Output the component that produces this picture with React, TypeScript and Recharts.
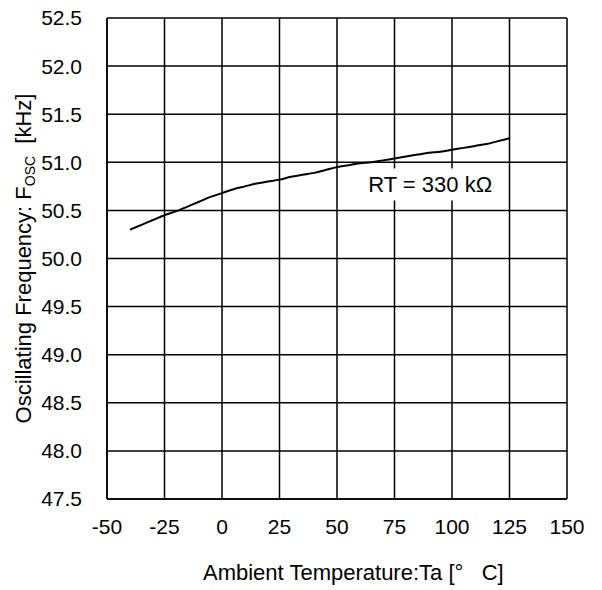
import { LineChart, Line, XAxis, YAxis, CartesianGrid, ReferenceDot, Label } from 'recharts';

// Ambient temperature [°C]
const temps = [
    -40, -35, -30, -25, -20, -15, -10, -5, 0, 5, 10, 15, 20, 25, 30, 35, 40, 45, 50, 55,
    60, 65, 70, 75, 80, 85, 90, 95, 100, 105, 110, 115, 120, 125,
];
// Oscillating frequency [kHz], RT = 330 kOhm
const freqs = [
    50.30, 50.35, 50.40, 50.45, 50.49, 50.54, 50.59, 50.64, 50.68, 50.72, 50.75, 50.78, 50.80, 50.82, 50.85, 50.87, 50.89, 50.92, 50.95, 50.97,
    50.99, 51.00, 51.02, 51.04, 51.06, 51.08, 51.10, 51.11, 51.13, 51.15, 51.17, 51.19, 51.22, 51.25,
];
const xTicks = [-50, -25, 0, 25, 50, 75, 100, 125, 150];
const yTicks = [47.5, 48.0, 48.5, 49.0, 49.5, 50.0, 50.5, 51.0, 51.5, 52.0, 52.5];
const seriesLabel = 'RT = 330 kΩ';

const data = temps.map((t, i) => ({ t, f: freqs[i] }));

const font = '"Liberation Sans", Arial, sans-serif';

const YTitle = (props: any) => {
    const vb = props.viewBox;
    const cy = vb.y + vb.height / 2;
    const x = 23;
    return (
        <text
            x={x}
            y={cy}
            transform={`rotate(-90, ${x}, ${cy})`}
            textAnchor="middle"
            fontSize={22}
            fontFamily={font}
            fill="#000"
        >
            Oscillating Frequency: F
            <tspan fontSize={14} dy={4}>OSC</tspan>
            <tspan dy={-4} style={{ whiteSpace: 'pre' }}>  [kHz]</tspan>
        </text>
    );
};

const XTitle = (props: any) => {
    const vb = props.viewBox;
    return (
        <text
            x={vb.x + 96}
            y={580}
            textAnchor="start"
            fontSize={22}
            fontFamily={font}
            fill="#000"
            style={{ whiteSpace: 'pre' }}
        >
            {'Ambient Temperature:Ta [°   C]'}
        </text>
    );
};

const SeriesTag = (props: any) => {
    const vb = props.viewBox;
    const cx = vb.x + (vb.width || 0) / 2;
    const cy = vb.y + (vb.height || 0) / 2;
    return (
        <g>
            <rect x={cx - 70} y={cy - 16} width={140} height={32} fill="#fff" />
            <text x={cx} y={cy + 8} textAnchor="middle" fontSize={22} fontFamily={font} fill="#000">
                {seriesLabel}
            </text>
        </g>
    );
};

export default function App() {
    return (
        <div style={{ width: 586, height: 588, marginTop: -8 }}>
            <LineChart
                width={586}
                height={588}
                data={data}
                margin={{ top: 18, right: 27, left: 0, bottom: 0 }}
            >
                <CartesianGrid stroke="#000" strokeWidth={1.5} />
                <XAxis
                    dataKey="t"
                    type="number"
                    domain={[-50, 150]}
                    ticks={xTicks}
                    interval={0}
                    height={89}
                    tickLine={false}
                    tickMargin={14}
                    axisLine={{ stroke: '#000', strokeWidth: 1.5 }}
                    tick={{ fontSize: 21, fill: '#000', fontFamily: font }}
                >
                    <Label content={XTitle} />
                </XAxis>
                <YAxis
                    type="number"
                    domain={[47.5, 52.5]}
                    ticks={yTicks}
                    interval={0}
                    width={99}
                    tickLine={false}
                    tickMargin={19}
                    axisLine={{ stroke: '#000', strokeWidth: 1.5 }}
                    tick={{ fontSize: 21, fill: '#000', fontFamily: font }}
                    tickFormatter={(v: number) => v.toFixed(1)}
                >
                    <Label content={YTitle} />
                </YAxis>
                <Line
                    type="monotone"
                    dataKey="f"
                    stroke="#000"
                    strokeWidth={2}
                    dot={false}
                    activeDot={false}
                    isAnimationActive={false}
                />
                <ReferenceDot x={90.5} y={50.77} r={0} fill="none" stroke="none">
                    <Label content={SeriesTag} />
                </ReferenceDot>
            </LineChart>
        </div>
    );
}
